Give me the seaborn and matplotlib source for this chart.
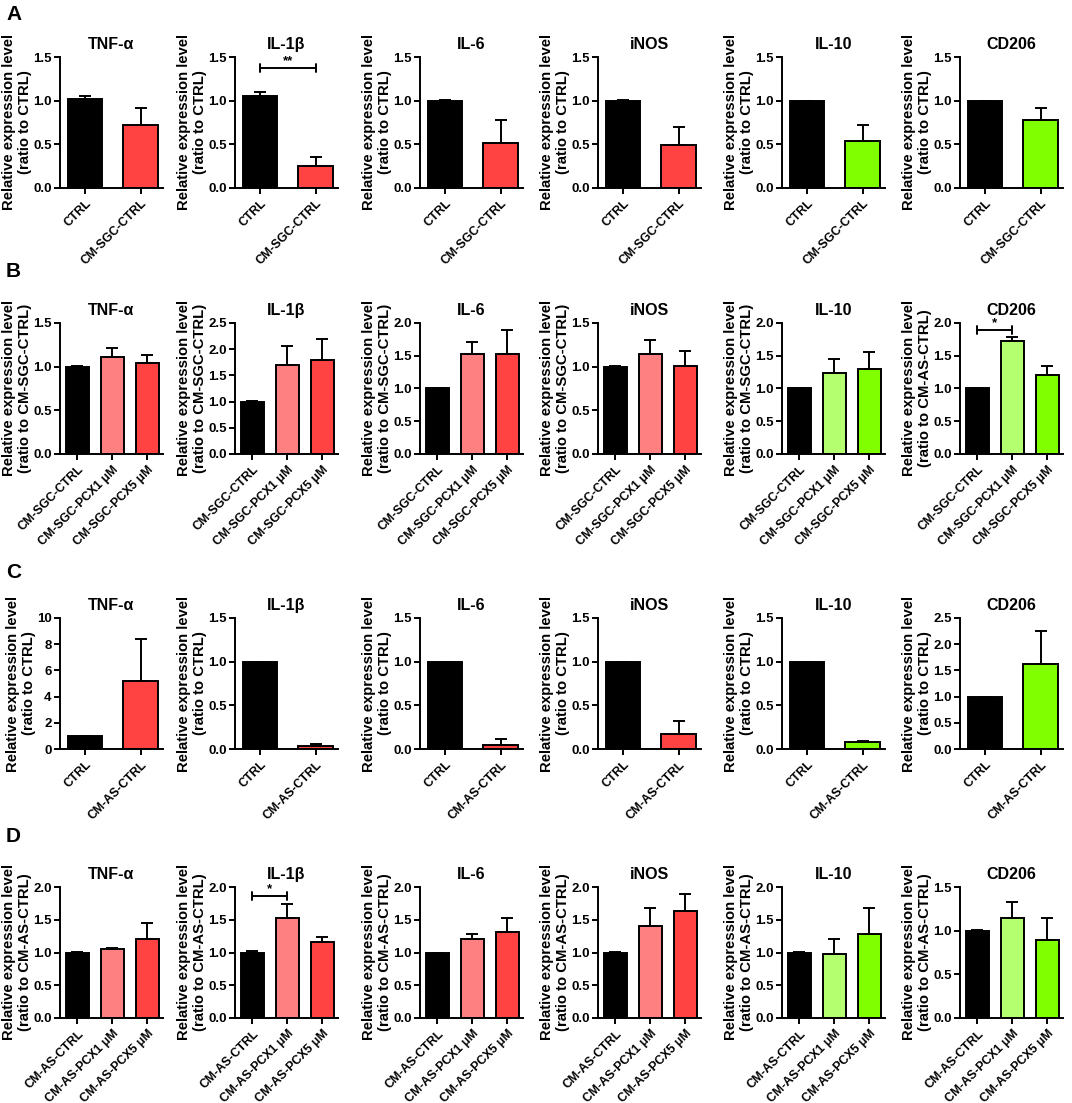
import numpy as np
import matplotlib
matplotlib.use("Agg")
import matplotlib.pyplot as plt
import seaborn as sns

sns.set_style("ticks")
plt.rcParams['font.family'] = ['Liberation Sans', 'DejaVu Sans']
plt.rcParams['font.weight'] = 'bold'
plt.rcParams['axes.labelweight'] = 'bold'
plt.rcParams['axes.titleweight'] = 'bold'
plt.rcParams['text.color'] = 'black'
plt.rcParams['axes.labelcolor'] = 'black'
plt.rcParams['axes.edgecolor'] = 'black'
plt.rcParams['xtick.color'] = 'black'
plt.rcParams['ytick.color'] = 'black'

# --- data -------------------------------------------------------------
genes = ["TNF-α", "IL-1β", "IL-6", "iNOS", "IL-10", "CD206"]

A_groups = ["CTRL", "CM-SGC-CTRL"]
B_groups = ["CM-SGC-CTRL", "CM-SGC-PCX1 μM", "CM-SGC-PCX5 μM"]
C_groups = ["CTRL", "CM-AS-CTRL"]
D_groups = ["CM-AS-CTRL", "CM-AS-PCX1 μM", "CM-AS-PCX5 μM"]

A_means = [[1.02, 0.72], [1.05, 0.25], [1.00, 0.51], [1.00, 0.49], [1.00, 0.54], [1.00, 0.78]]
A_errs = [[0.03, 0.20], [0.05, 0.11], [0.01, 0.27], [0.005, 0.21], [0.0, 0.18], [0.0, 0.14]]

B_means = [[1.00, 1.11, 1.04], [1.00, 1.70, 1.79], [1.00, 1.52, 1.52],
           [1.00, 1.15, 1.01], [1.00, 1.23, 1.30], [1.00, 1.73, 1.21]]
B_errs = [[0.01, 0.10, 0.09], [0.02, 0.36, 0.41], [0.01, 0.19, 0.37],
          [0.01, 0.15, 0.17], [0.01, 0.22, 0.25], [0.01, 0.05, 0.13]]

C_means = [[1.0, 5.2], [1.0, 0.03], [1.0, 0.05], [1.0, 0.17], [1.0, 0.08], [1.0, 1.63]]
C_errs = [[0.0, 3.2], [0.0, 0.03], [0.0, 0.06], [0.0, 0.15], [0.0, 0.01], [0.0, 0.62]]

D_means = [[1.00, 1.05, 1.20], [1.00, 1.52, 1.16], [1.00, 1.21, 1.32],
           [1.00, 1.40, 1.63], [1.00, 0.98, 1.29], [1.00, 1.15, 0.89]]
D_errs = [[0.01, 0.02, 0.25], [0.02, 0.22, 0.08], [0.0, 0.07, 0.21],
          [0.01, 0.28, 0.26], [0.01, 0.22, 0.39], [0.01, 0.18, 0.26]]

A_ymax = [1.5, 1.5, 1.5, 1.5, 1.5, 1.5]
B_ymax = [1.5, 2.5, 2.0, 1.5, 2.0, 2.0]
C_ymax = [10, 1.5, 1.5, 1.5, 1.5, 2.5]
D_ymax = [2.0, 2.0, 2.0, 2.0, 2.0, 1.5]

A_ylabel = ["(ratio to CTRL)"] * 6
B_ylabel = ["(ratio to CM-SGC-CTRL)"] * 5 + ["(ratio to CM-AS-CTRL)"]
C_ylabel = ["(ratio to CTRL)"] * 6
D_ylabel = ["(ratio to CM-AS-CTRL)"] * 6

# significance brackets: (row, gene index, bar from, bar to, height, text)
brackets = [("A", 1, 0, 1, 1.37, "**"),
            ("B", 5, 0, 1, 1.89, "*"),
            ("D", 1, 0, 1, 1.86, "*")]

# --- colours ------------------------------------------------------------
BLACK = "#000000"
RED = "#FF4242"
PINK = "#FF8080"
GREEN = "#80FF00"
LGREEN = "#B3FF70"


def bar_colors(gene_idx, n):
    if gene_idx < 4:
        return [BLACK, RED] if n == 2 else [BLACK, PINK, RED]
    return [BLACK, GREEN] if n == 2 else [BLACK, LGREEN, GREEN]


rows = {
    "A": (A_groups, A_means, A_errs, A_ymax, A_ylabel),
    "B": (B_groups, B_means, B_errs, B_ymax, B_ylabel),
    "C": (C_groups, C_means, C_errs, C_ymax, C_ylabel),
    "D": (D_groups, D_means, D_errs, D_ymax, D_ylabel),
}

W, H = 1072, 1103
fig = plt.figure(figsize=(W / 100, H / 100), dpi=100)

col_left = [60, 235, 420, 598, 782, 960]
row_top = {"A": 57, "B": 323, "C": 618, "D": 887}
letter_y = {"A": 15, "B": 272, "C": 572, "D": 837}
ax_w, ax_h = 103, 131

for row, (groups, means, errs, ymaxs, ylabs) in rows.items():
    fig.text(6 / W, 1 - letter_y[row] / H, row, fontsize=15, fontweight='bold', va='center')
    n = len(groups)
    for g in range(6):
        ax = fig.add_axes([col_left[g] / W, 1 - (row_top[row] + ax_h) / H, ax_w / W, ax_h / H])
        sns.barplot(x=groups, y=means[g], hue=groups, palette=bar_colors(g, n), legend=False,
                    order=groups, hue_order=groups, width=0.62 if n == 2 else 0.66,
                    edgecolor="black", linewidth=1.4, errorbar=None, saturation=1, ax=ax)
        xs = np.arange(n)
        ax.errorbar(xs, means[g], yerr=[np.zeros(n), errs[g]], fmt='none', ecolor='black',
                    elinewidth=1.4, capsize=4.5, capthick=1.4, zorder=1)
        ymax = ymaxs[g]
        step = 2 if ymax == 10 else 0.5
        ax.set_ylim(0, ymax)
        ax.set_yticks(np.arange(0, ymax + 1e-9, step))
        if step == 0.5:
            ax.set_yticklabels([f"{v:.1f}" for v in np.arange(0, ymax + 1e-9, step)])
        ax.set_xlim(-0.45, 1.4) if n == 2 else ax.set_xlim(-0.5, 2.45)
        sns.despine(ax=ax)
        for s in ["left", "bottom"]:
            ax.spines[s].set_linewidth(1.4)
        ax.tick_params(axis='y', width=1.4, length=4, labelsize=9.5, pad=2)
        ax.tick_params(axis='x', width=1.4, length=4, labelsize=8.8, pad=3)
        ax.set_xticks(xs)
        ax.set_xticklabels(groups, rotation=45, ha='right', rotation_mode='anchor',
                           fontweight='bold')
        for t in ax.get_yticklabels():
            t.set_fontweight('bold')
        ax.set_xlabel("")
        ax.set_ylabel("Relative expression level\n" + ylabs[g], fontsize=10.7, labelpad=1,
                      linespacing=1.15)
        ax.set_title(genes[g], fontsize=11.5, fontweight='bold', pad=6)

        for (r, gi, b1, b2, yb, txt) in brackets:
            if r == row and gi == g:
                d = ymax * 0.03
                ax.plot([b1, b2], [yb, yb], color='black', lw=1.4, clip_on=False)
                ax.plot([b1, b1], [yb - d, yb + d], color='black', lw=1.4, clip_on=False)
                ax.plot([b2, b2], [yb - d, yb + d], color='black', lw=1.4, clip_on=False)
                ax.text((b1 + b2) / 2, yb + d * 0.3, txt, ha='center', va='bottom',
                        fontsize=9.5, fontweight='bold')

fig.savefig("out.png", dpi=100)
